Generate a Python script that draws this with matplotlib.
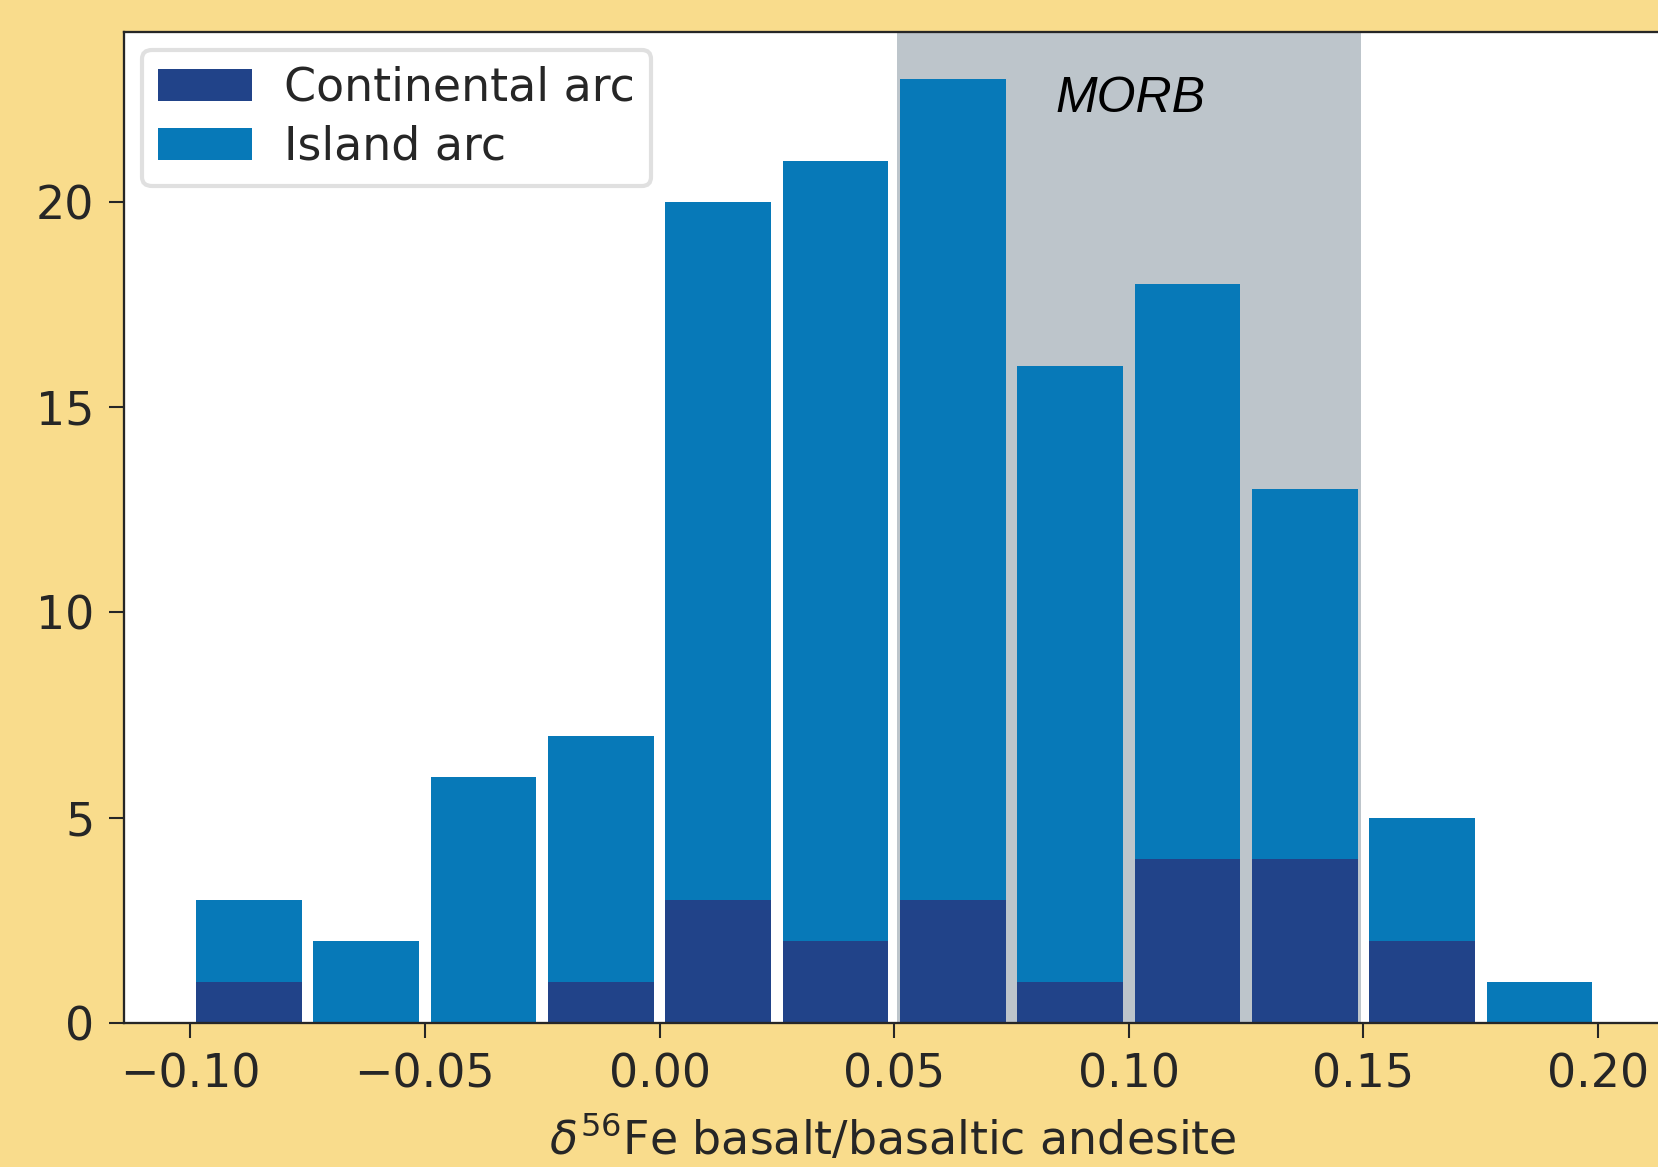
import matplotlib
matplotlib.use("Agg")
import matplotlib.pyplot as plt
import numpy as np

# delta56Fe bins (width 0.025) and counts per bin
bin_edges = [-0.100, -0.075, -0.050, -0.025, 0.000, 0.025, 0.050,
             0.075, 0.100, 0.125, 0.150, 0.175, 0.200]
continental = [1, 0, 0, 1, 3, 2, 3, 1, 4, 4, 2, 0]
island = [2, 2, 6, 6, 17, 19, 20, 15, 14, 9, 3, 1]

morb_range = (0.0505, 0.1495)
yticks = [0, 5, 10, 15, 20]
xticks = [-0.10, -0.05, 0.00, 0.05, 0.10, 0.15, 0.20]

bg = "#f9dc8c"
c_cont = "#214389"
c_isl = "#0779b8"
ink = "#262626"

plt.rcParams["font.family"] = "DejaVu Sans"
plt.rcParams["text.color"] = ink
plt.rcParams["axes.labelcolor"] = ink
plt.rcParams["xtick.color"] = ink
plt.rcParams["ytick.color"] = ink

fig = plt.figure(figsize=(1658 / 300, 1167 / 300), dpi=300, facecolor=bg)
ax = fig.add_axes([0.0748, 0.1234, 0.9276, 0.8496])
ax.set_facecolor("white")

edges = np.array(bin_edges)
left = edges[:-1]
width = np.diff(edges)
centers = left + width / 2
rw = 0.9

ax.axvspan(morb_range[0], morb_range[1], color="#bdc5cb", lw=0, zorder=0)
ax.bar(centers, continental, width=width * rw, color=c_cont, lw=0,
       label="Continental arc", zorder=2)
ax.bar(centers, island, width=width * rw, bottom=continental, color=c_isl,
       lw=0, label="Island arc", zorder=2)

ax.text(0.1003, 22.18, "MORB", ha="center", va="baseline", fontsize=12,
        style="italic", family="Liberation Sans", color="black")

ax.set_xlim(-0.1141, 0.2136)
ax.set_ylim(0, 24.15)
ax.set_xticks(xticks)
ax.set_yticks(yticks)
ax.set_xticklabels([f"{t:.2f}".replace("-", "\u2212") for t in xticks])
ax.tick_params(labelsize=11, length=3.6, width=0.5)
for s in ax.spines.values():
    s.set_linewidth(0.55)
    s.set_color(ink)

ax.set_xlabel(r"$\delta^{56}$Fe basalt/basaltic andesite", fontsize=11)

leg = ax.legend(loc="upper left", fontsize=11, borderaxespad=0.4,
                borderpad=0.35, labelspacing=0.3, handlelength=2.05,
                handletextpad=0.7, frameon=True)
leg.get_frame().set_edgecolor("#d9d9d9")

fig.savefig("out.png", dpi=300, facecolor=bg)
